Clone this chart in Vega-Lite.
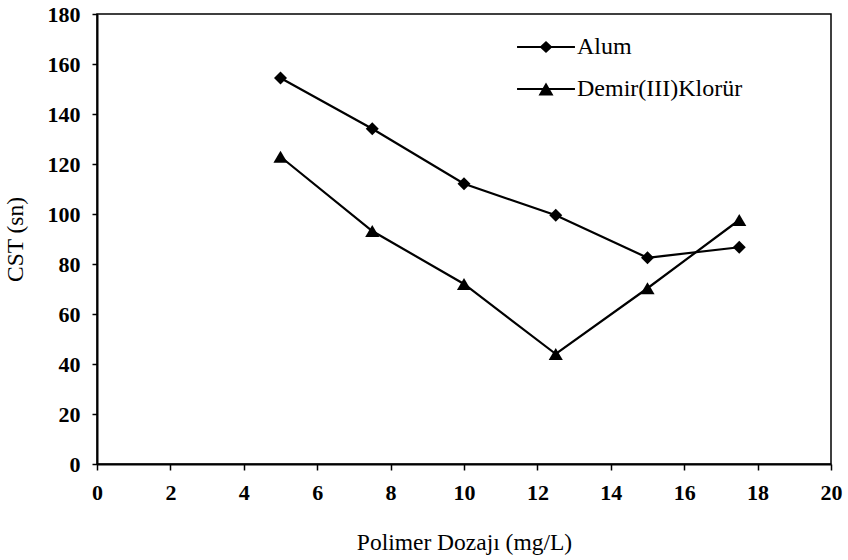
{
  "$schema": "https://vega.github.io/schema/vega-lite/v6.json",
  "autosize": {"type": "none"},
  "width": 734,
  "height": 450,
  "padding": {"left": 97, "top": 14, "right": 17, "bottom": 96},
  "background": "white",
  "config": {
    "font": "Liberation Serif",
    "view": {"stroke": "black", "strokeWidth": 1.5},
    "axis": {
      "grid": false,
      "domainColor": "black",
      "domainWidth": 2,
      "tickColor": "black",
      "tickWidth": 1.5,
      "tickSize": 5,
      "labelColor": "black",
      "labelFont": "Liberation Serif",
      "labelFontSize": 22,
      "labelFontWeight": "bold",
      "titleColor": "black",
      "titleFont": "Liberation Serif",
      "titleFontSize": 23.5,
      "titleFontWeight": "normal"
    }
  },
  "data": {
    "values": [
      {"doz": 5, "cst": 154.4, "series": "Alum"},
      {"doz": 7.5, "cst": 134.1, "series": "Alum"},
      {"doz": 10, "cst": 112.1, "series": "Alum"},
      {"doz": 12.5, "cst": 99.5, "series": "Alum"},
      {"doz": 15, "cst": 82.5, "series": "Alum"},
      {"doz": 17.5, "cst": 86.7, "series": "Alum"},
      {"doz": 5, "cst": 122.9, "series": "Demir(III)Klorür"},
      {"doz": 7.5, "cst": 93.2, "series": "Demir(III)Klorür"},
      {"doz": 10, "cst": 72.0, "series": "Demir(III)Klorür"},
      {"doz": 12.5, "cst": 44.0, "series": "Demir(III)Klorür"},
      {"doz": 15, "cst": 70.3, "series": "Demir(III)Klorür"},
      {"doz": 17.5, "cst": 97.6, "series": "Demir(III)Klorür"}
    ]
  },
  "encoding": {
    "x": {
      "field": "doz",
      "type": "quantitative",
      "scale": {"domain": [0, 20], "nice": false},
      "axis": {"values": [0, 2, 4, 6, 8, 10, 12, 14, 16, 18, 20], "title": "Polimer Dozajı (mg/L)", "labelPadding": 12, "titlePadding": 27, "tickSize": 6, "labelFlush": false}
    },
    "y": {
      "field": "cst",
      "type": "quantitative",
      "scale": {"domain": [0, 180], "nice": false},
      "axis": {"values": [0, 20, 40, 60, 80, 100, 120, 140, 160, 180], "title": "CST (sn)", "labelPadding": 12, "titlePadding": 20, "labelFlush": false}
    }
  },
  "layer": [
    {
      "mark": {"type": "line", "strokeWidth": 2.2, "color": "black"},
      "encoding": {
        "detail": {"field": "series", "type": "nominal"}
      }
    },
    {
      "transform": [{"filter": "datum.series === 'Alum'"}],
      "mark": {"type": "point", "shape": "diamond", "filled": true, "color": "black", "opacity": 1, "size": 170}
    },
    {
      "transform": [{"filter": "datum.series !== 'Alum'"}],
      "mark": {"type": "point", "shape": "triangle-up", "filled": true, "color": "black", "opacity": 1, "size": 200}
    },
    {
      "mark": {"type": "point", "filled": true, "color": "black", "size": 0},
      "encoding": {
        "shape": {
          "field": "series",
          "type": "nominal",
          "scale": {"domain": ["Alum", "Demir(III)Klorür"], "range": ["M-1.93,-0.065H1.93V0.065H-1.93ZM0,-0.4L0.43,0L0,0.4L-0.43,0Z", "M-1.93,-0.065H1.93V0.065H-1.93ZM0,-0.43L0.5,0.43L-0.5,0.43Z"]},
          "legend": {
            "title": null,
            "orient": "none",
            "legendX": 434,
            "legendY": 18,
            "padding": 0,
            "symbolSize": 900,
            "symbolOpacity": 1,
            "symbolFillColor": "black",
            "symbolStrokeColor": "black",
            "symbolStrokeWidth": 0,
            "labelOffset": 16,
            "labelLimit": 400,
            "rowPadding": 15,
            "labelFont": "Liberation Serif",
            "labelFontSize": 24,
            "labelColor": "black"
          }
        }
      }
    }
  ]
}
